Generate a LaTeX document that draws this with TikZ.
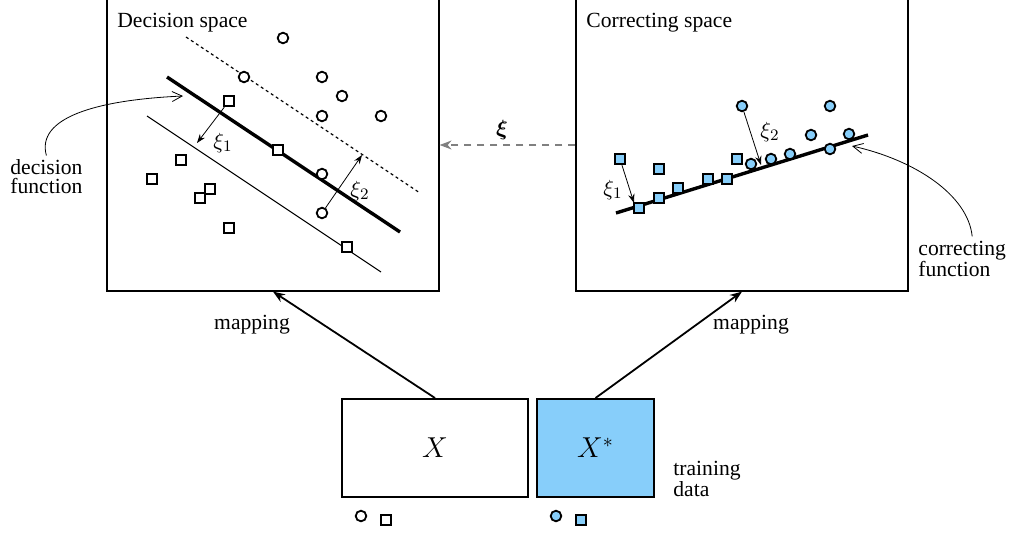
\documentclass[tikz,border=0pt]{standalone}
\usepackage{fontspec}
\setmainfont{Liberation Serif}
\usepackage{amsmath,amssymb}
\usepackage{bm}
\usetikzlibrary{arrows.meta,positioning}
\definecolor{skyfill}{RGB}{135,206,250}

\begin{document}
\begin{tikzpicture}[x=0.5pt,y=-0.5pt,
    font=\fontsize{10.8}{9.5}\selectfont,
    panel/.style={draw, line width=0.6pt, minimum width=166pt, minimum height=150.5pt, inner sep=0pt},
    odot/.style={circle, draw, line width=0.9pt, fill=white, minimum size=5.3pt, inner sep=0pt},
    osq/.style={rectangle, draw, line width=0.9pt, fill=white, minimum size=5.3pt, inner sep=0pt},
    bdot/.style={odot, fill=skyfill},
    bsq/.style={osq, fill=skyfill},
    lbl/.style={inner sep=0pt, align=left},
    databox/.style={draw, line width=1pt, minimum height=49pt, inner sep=0pt},
    xiarrow/.style={-{Stealth[length=4.5pt,width=3.2pt]}, line width=0.4pt},
    maparrow/.style={-{Stealth[length=6pt,width=4.5pt]}, line width=0.9pt},
    notearrow/.style={-{Straight Barb[length=5pt,width=5pt]}, line width=0.4pt}]
    \useasboundingbox (0,0) rectangle (1011,536);

    % Panels
    \node[panel] (dec) at (273,140.5) {};
    \node[panel] (corr) at (742,140.5) {};
    \node[lbl, anchor=base west] (dectitle) at (117,27) {Decision space};
    \node[lbl, anchor=base west] (corrtitle) at (586,27) {Correcting space};

    % Decision space: margins and decision function
    \draw[line width=0.6pt, dash pattern=on 1.5pt off 1.5pt] (186,37) -- (420,193);
    \draw[line width=1.7pt] (167,77) -- (400,232);
    \draw[line width=0.5pt] (147,116) -- (381,272);
    \foreach \x/\y [count=\i] in {283/38, 244/77, 322/77, 342/96, 322/116, 381/116, 322/174, 322/213} {
        \node[odot] (dc\i) at (\x,\y) {};
    }
    \foreach \x/\y [count=\i] in {229/101, 278/150, 181/160, 152/179, 210/189, 200/198, 229/228, 347/247} {
        \node[osq] (ds\i) at (\x,\y) {};
    }
    \coordinate (de1) at (197,143);
    \coordinate (de2) at (362,155);
    \draw[xiarrow] (ds1) -- (de1);
    \draw[xiarrow] (dc8) -- (de2);
    \node (dxi1) at (223,143) {$\xi_1$};
    \node (dxi2) at (360,191) {$\xi_2$};

    \node[lbl, anchor=west] (dfun) at (10,177) {decision\\function};
    \coordinate (dtip) at (183,96);
    \draw[notearrow] ([yshift=2pt]dfun.north) .. controls (36,118) and (95,100) .. (dtip);

    % Correcting space: slacks and correcting function
    \draw[line width=1.7pt] (616,213) -- (868,135);
    \foreach \x/\y [count=\i] in {620/159, 659/169, 639/208, 659/198, 678/188, 708/179, 727/179, 737/159} {
        \node[bsq] (cs\i) at (\x,\y) {};
    }
    \foreach \x/\y [count=\i] in {742/106, 751/164, 771/159, 790/154, 830/106, 811/135, 849/134, 830/149} {
        \node[bdot] (cc\i) at (\x,\y) {};
    }
    \coordinate (ce1) at (634,203);
    \coordinate (ce2) at (761,165);
    \draw[xiarrow] (cs1) -- (ce1);
    \draw[xiarrow] (cc1) -- (ce2);
    \node (cxi1) at (613,190) {$\xi_1$};
    \node (cxi2) at (770,132) {$\xi_2$};

    \node[lbl, anchor=west] (cfun) at (918,259) {correcting\\function};
    \coordinate (ctip) at (852,146);
    \draw[notearrow] ([xshift=5pt,yshift=2pt]cfun.north) .. controls (968,195) and (915,160) .. (ctip);

    % Slack values passed back
    \draw[-{Stealth[length=6pt,width=4.5pt]}, gray, line width=0.6pt, dash pattern=on 3.5pt off 3pt]
        ([yshift=-2.25pt]corr.west) -- ([yshift=-2.25pt]dec.east);
    \node (xibold) at (502,130) {$\bm{\xi}$};

    % Training data
    \node[databox, minimum width=93pt] (xbox) at (435,448) {\fontsize{14}{16}\selectfont$X$};
    \node[databox, minimum width=58.5pt, fill=skyfill] (xsbox) at (595.5,448) {\fontsize{14}{16}\selectfont$X^*$};
    \node[lbl, anchor=west] (train) at (673,479) {training\\data};
    \node[odot] (xc) at (361,516) {};
    \node[osq] (xs) at (386,520) {};
    \node[bdot] (xsc) at (556,516) {};
    \node[bsq] (xss) at (581,520) {};

    % Mappings
    \draw[maparrow] (xbox.north) -- (dec.south);
    \draw[maparrow] (xsbox.north) -- (corr.south);
    \node (map1) at (252,325) {mapping};
    \node (map2) at (751,325) {mapping};
\end{tikzpicture}
\end{document}
